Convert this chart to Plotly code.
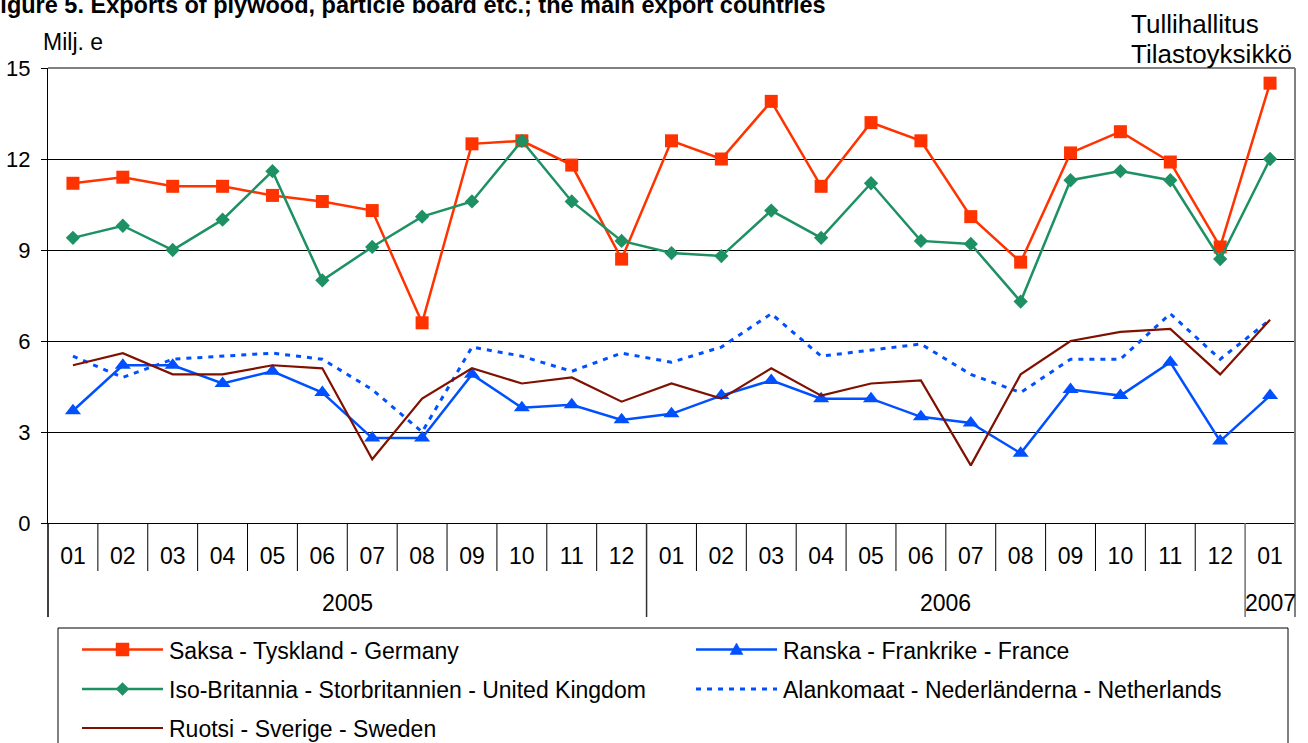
import plotly.graph_objects as go

# ---------------- data ----------------
years = ["2005"] * 12 + ["2006"] * 12 + ["2007"]
months = ["01", "02", "03", "04", "05", "06", "07", "08", "09", "10", "11", "12"] * 2 + ["01"]
periods = [f"{y}-{m}" for y, m in zip(years, months)]

germany = [11.2, 11.4, 11.1, 11.1, 10.8, 10.6, 10.3, 6.6, 12.5, 12.6, 11.8, 8.7,
           12.6, 12.0, 13.9, 11.1, 13.2, 12.6, 10.1, 8.6, 12.2, 12.9, 11.9, 9.1,
           14.5]
france = [3.7, 5.2, 5.2, 4.6, 5.0, 4.3, 2.8, 2.8, 4.9, 3.8, 3.9, 3.4,
          3.6, 4.2, 4.7, 4.1, 4.1, 3.5, 3.3, 2.3, 4.4, 4.2, 5.3, 2.7,
          4.2]
uk = [9.4, 9.8, 9.0, 10.0, 11.6, 8.0, 9.1, 10.1, 10.6, 12.6, 10.6, 9.3,
      8.9, 8.8, 10.3, 9.4, 11.2, 9.3, 9.2, 7.3, 11.3, 11.6, 11.3, 8.7,
      12.0]
netherlands = [5.5, 4.8, 5.4, 5.5, 5.6, 5.4, 4.4, 3.0, 5.8, 5.5, 5.0, 5.6,
               5.3, 5.8, 6.9, 5.5, 5.7, 5.9, 4.9, 4.3, 5.4, 5.4, 6.9, 5.4,
               6.7]
sweden = [5.2, 5.6, 4.9, 4.9, 5.2, 5.1, 2.1, 4.1, 5.1, 4.6, 4.8, 4.0,
          4.6, 4.1, 5.1, 4.2, 4.6, 4.7, 1.9, 4.9, 6.0, 6.3, 6.4, 4.9,
          6.7]

names = ["Saksa - Tyskland - Germany",
         "Ranska - Frankrike - France",
         "Iso-Britannia - Storbritannien - United Kingdom",
         "Alankomaat - Nederländerna - Netherlands",
         "Ruotsi - Sverige - Sweden"]
y_ticks = [0, 3, 6, 9, 12, 15]

# ---------------- layout geometry ----------------
W, H = 1308, 743
L, R, T, B = 48, 13, 68, 220
PW = W - L - R
PH = H - T - B
FONT = "Liberation Sans, Arial, sans-serif"


def py(pix):
    return (H - B - pix) / PH


def px(pix):
    return (pix - L) / PW


fig = go.Figure()

series = [
    (germany, names[0], "#FF3300", "square", 13, "solid", 2.5),
    (france, names[1], "#0050FF", "triangle-up", 14, "solid", 2.5),
    (uk, names[2], "#1E9164", "diamond", 11, "solid", 2.5),
    (netherlands, names[3], "#0050FF", None, 0, "5px,6px", 3),
    (sweden, names[4], "#7F1100", None, 0, "solid", 2.2),
]
for vals, name, color, sym, msize, dash, lw in series:
    fig.add_trace(go.Scatter(
        x=periods, y=vals, name=name,
        mode="lines+markers" if sym else "lines",
        line=dict(color=color, width=lw, dash=dash),
        marker=dict(color=color, symbol=sym, size=msize) if sym else None,
        showlegend=False,
    ))

shapes = []
annotations = []
# month dividers
for i in range(len(periods) - 1):
    if years[i] != years[i + 1]:
        continue
    shapes.append(dict(type="line", xref="x", yref="paper",
                       x0=i + 0.5, x1=i + 0.5, y0=0, y1=py(571),
                       line=dict(color="black", width=1)))
# year labels and dividers
uniq = []
for y in years:
    if y not in uniq:
        uniq.append(y)
for gi, yr in enumerate(uniq):
    idx = [i for i, v in enumerate(years) if v == yr]
    first, last = idx[0], idx[-1]
    annotations.append(dict(text=yr, xref="x", yref="paper",
                            x=(first + last) / 2, y=py(603),
                            showarrow=False, xanchor="center", yanchor="middle",
                            font=dict(size=23, color="black", family=FONT)))
    if gi > 0:
        col = "#303030" if gi < len(uniq) - 1 else "#707070"
        shapes.append(dict(type="line", xref="x", yref="paper",
                           x0=first - 0.5, x1=first - 0.5, y0=0, y1=py(617),
                           line=dict(color=col, width=1.5)))
# left and right edges
shapes.append(dict(type="line", xref="paper", yref="paper", x0=0, x1=0,
                   y0=py(617), y1=0, line=dict(color="black", width=1.5)))
shapes.append(dict(type="line", xref="paper", yref="paper", x0=1, x1=1,
                   y0=py(617), y1=1, line=dict(color="#808080", width=2)))
# top border
shapes.append(dict(type="line", xref="paper", yref="paper", x0=0, x1=1,
                   y0=1, y1=1, line=dict(color="#808080", width=2)))

# ---------------- legend (drawn manually, Excel-like) ----------------
shapes.append(dict(type="rect", xref="paper", yref="paper",
                   x0=px(58), x1=px(1288), y0=py(628), y1=py(770),
                   line=dict(color="black", width=1), fillcolor="white", layer="below"))
col_x = [82, 696]
row_y = [649.5, 689, 728]
for k, (vals, name, color, sym, msize, dash, lw) in enumerate(series):
    r, c = divmod(k, 2)
    x0 = col_x[c]
    x1 = x0 + 81
    yc = row_y[r]
    shapes.append(dict(type="line", xref="paper", yref="paper",
                       x0=px(x0), x1=px(x1), y0=py(yc), y1=py(yc),
                       line=dict(color=color, width=lw, dash=dash)))
    mx = (x0 + x1) / 2
    if sym == "square":
        h = 6.5
        pts = [(mx - h, yc - h), (mx + h, yc - h), (mx + h, yc + h), (mx - h, yc + h)]
    elif sym == "diamond":
        h = 6.5
        pts = [(mx, yc - h), (mx + h, yc), (mx, yc + h), (mx - h, yc)]
    elif sym == "triangle-up":
        h = 6.5
        pts = [(mx, yc - h), (mx + h, yc + 5), (mx - h, yc + 5)]
    else:
        pts = None
    if pts:
        path = "M " + " L ".join(f"{px(a):.6f},{py(b):.6f}" for a, b in pts) + " Z"
        shapes.append(dict(type="path", xref="paper", yref="paper", path=path,
                           fillcolor=color, line=dict(color=color, width=0.5)))
    annotations.append(dict(text=name, xref="paper", yref="paper",
                            x=px(x1 + 4), y=py(yc + 1), xanchor="left", yanchor="middle",
                            showarrow=False,
                            font=dict(size=23, color="black", family=FONT)))

annotations += [
    dict(text="<b>Figure 5. Exports of plywood, particle board etc.; the main export countries</b>",
         xref="paper", yref="paper", x=px(-16), y=py(4.5), xanchor="left", yanchor="middle",
         showarrow=False, font=dict(size=23.5, color="black", family=FONT)),
    dict(text="Milj. e", xref="paper", yref="paper", x=px(41), y=py(42),
         xanchor="left", yanchor="middle", showarrow=False,
         font=dict(size=23, color="black", family=FONT)),
    dict(text="Tullihallitus", xref="paper", yref="paper", x=px(1129), y=py(24),
         xanchor="left", yanchor="middle", showarrow=False,
         font=dict(size=26, color="black", family=FONT)),
    dict(text="Tilastoyksikkö", xref="paper", yref="paper", x=px(1129), y=py(54),
         xanchor="left", yanchor="middle", showarrow=False,
         font=dict(size=26, color="black", family=FONT)),
]

fig.update_layout(
    width=W, height=H,
    margin=dict(l=L, r=R, t=T, b=B, autoexpand=False),
    paper_bgcolor="white", plot_bgcolor="white",
    font=dict(family=FONT, size=23, color="black"),
    shapes=shapes, annotations=annotations,
    showlegend=False,
    hovermode=False,
)
fig.update_xaxes(
    type="category", range=[-0.5, len(periods) - 0.5],
    tickmode="array", tickvals=periods, ticktext=months,
    ticks="", showgrid=False, showline=True, linecolor="black", linewidth=1,
    ticklabelstandoff=12, tickfont=dict(size=23, family=FONT, color="black"),
    zeroline=False,
)
fig.update_yaxes(
    range=[0, 15], tickmode="array", tickvals=y_ticks,
    ticks="outside", ticklen=6, tickcolor="black", tickwidth=1,
    showgrid=True, gridcolor="black", gridwidth=1,
    showline=True, linecolor="black", linewidth=1,
    zeroline=False, ticklabelstandoff=6,
    tickfont=dict(size=22, family=FONT, color="black"),
)

fig.write_html("out.html",
               config={"displayModeBar": False, "staticPlot": True},
               post_script="document.body.style.margin='0';document.body.style.overflow='hidden';")
